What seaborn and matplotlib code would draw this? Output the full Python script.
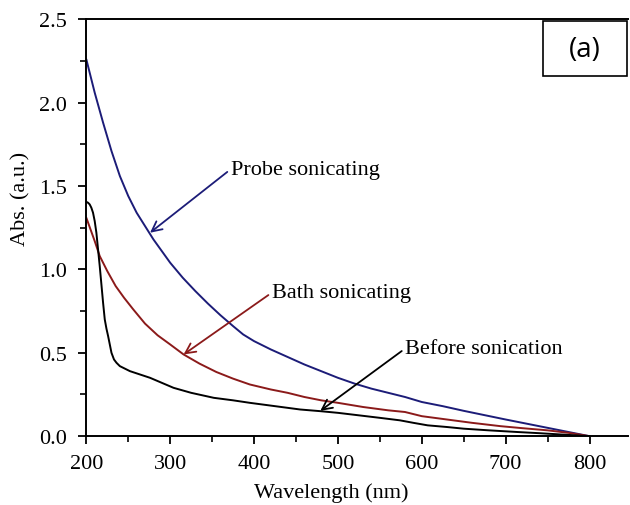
import matplotlib
matplotlib.use("Agg")
import matplotlib.pyplot as plt
from matplotlib.patches import Rectangle
from matplotlib.ticker import MultipleLocator
import seaborn as sns
import pandas as pd

# ---- data ----
probe_x = [200, 210, 220, 230, 240, 250, 260, 270, 280, 290, 300, 315, 330, 345, 360, 375, 387, 400, 420, 440, 460, 480, 500, 520, 540, 560, 580, 600, 625, 650, 675, 700, 725, 750, 775, 800]
probe_y = [2.26, 2.06, 1.88, 1.71, 1.56, 1.44, 1.34, 1.26, 1.18, 1.11, 1.04, 0.95, 0.87, 0.795, 0.725, 0.66, 0.61, 0.57, 0.52, 0.475, 0.43, 0.39, 0.35, 0.315, 0.285, 0.26, 0.235, 0.205, 0.18, 0.152, 0.126, 0.10, 0.075, 0.05, 0.025, 0.0]

bath_x = [200, 205, 210, 216, 225, 235, 245, 256, 270, 285, 300, 316, 335, 355, 375, 395, 420, 440, 460, 480, 500, 530, 560, 580, 600, 630, 660, 694, 720, 750, 775, 800]
bath_y = [1.31, 1.24, 1.17, 1.08, 0.99, 0.90, 0.83, 0.76, 0.675, 0.605, 0.55, 0.49, 0.435, 0.385, 0.345, 0.31, 0.28, 0.26, 0.235, 0.215, 0.20, 0.175, 0.155, 0.145, 0.12, 0.10, 0.08, 0.06, 0.048, 0.035, 0.02, 0.0]

before_x = [200, 202, 204, 206, 208, 210, 212, 214, 216, 218, 220, 222, 224, 226, 228, 230, 233, 236, 240, 244, 252, 264, 276, 290, 304, 325, 352, 375, 395, 425, 455, 479, 500, 525, 550, 574, 590, 607, 630, 650, 680, 714, 740, 760, 780, 800]
before_y = [1.405, 1.40, 1.39, 1.37, 1.34, 1.29, 1.22, 1.12, 1.02, 0.91, 0.80, 0.70, 0.645, 0.60, 0.55, 0.50, 0.46, 0.44, 0.42, 0.41, 0.39, 0.37, 0.35, 0.32, 0.29, 0.26, 0.23, 0.215, 0.20, 0.18, 0.16, 0.15, 0.14, 0.125, 0.11, 0.095, 0.08, 0.065, 0.055, 0.045, 0.035, 0.025, 0.018, 0.012, 0.006, 0.0]

labels = ["Probe sonicating", "Bath sonicating", "Before sonication"]
colors = ["#1c1c78", "#8b1a1a", "#000000"]
x_ticks = [200, 300, 400, 500, 600, 700, 800]
y_ticks = [0.0, 0.5, 1.0, 1.5, 2.0, 2.5]

# annotation text anchors and arrow tips (data coords)
text_pos = [(372, 1.60), (421, 0.86), (580, 0.525)]
arrow_tip = [(276, 1.22), (316, 0.49), (479, 0.152)]

# ---- plot ----
sns.set_theme(style="ticks")
plt.rcParams["font.family"] = ["Liberation Serif", "DejaVu Serif"]

fig = plt.figure(figsize=(6.3, 5.06), dpi=100)
ax = fig.add_axes([0.137, 0.136, 0.860, 0.824])

series = [(probe_x, probe_y), (bath_x, bath_y), (before_x, before_y)]
for (xs, ys), lab, c in zip(series, labels, colors):
    df = pd.DataFrame({"x": xs, "y": ys})
    sns.lineplot(data=df, x="x", y="y", ax=ax, color=c, linewidth=1.4, sort=False,
                 solid_joinstyle="round", solid_capstyle="round")

for lab, c, tp, tip in zip(labels, colors, text_pos, arrow_tip):
    ax.annotate(lab, xy=tip, xytext=tp, textcoords="data",
                fontsize=16, color="black", ha="left", va="center",
                arrowprops=dict(arrowstyle="->", color=c, lw=1.3, relpos=(0, 0.5),
                                shrinkA=0, shrinkB=0, mutation_scale=18))

ax.set_xlim(200, 846)
ax.set_ylim(0, 2.5)
ax.set_xticks(x_ticks)
ax.set_yticks(y_ticks)
ax.set_yticklabels([f"{v:.1f}" for v in y_ticks])
ax.xaxis.set_minor_locator(MultipleLocator(50))
ax.yaxis.set_minor_locator(MultipleLocator(0.25))
ax.tick_params(which="major", direction="out", length=6, width=1.3, labelsize=16,
               colors="black", labelcolor="black")
ax.tick_params(axis="x", which="major", pad=7)
ax.tick_params(axis="y", which="major", pad=8)
ax.tick_params(which="minor", direction="out", length=4, width=1.2, colors="black")
ax.set_xlabel("Wavelength (nm)", fontsize=16, color="black")
ax.set_ylabel("Abs. (a.u.)", fontsize=16, color="black")
ax.xaxis.set_label_coords(0.452, -0.134)
ax.yaxis.set_label_coords(-0.12, 0.571)
ax.xaxis.label.set_va("center")
ax.yaxis.label.set_va("center")

for s in ["left", "bottom", "top"]:
    ax.spines[s].set_linewidth(1.4)
    ax.spines[s].set_color("black")
ax.spines["right"].set_visible(False)

ax.add_patch(Rectangle((0.843, 0.863), 0.155, 0.132, transform=ax.transAxes,
                       fill=False, edgecolor="black", linewidth=1.2, clip_on=False))
ax.text(0.9205, 0.929, "(a)", transform=ax.transAxes, ha="center", va="center",
        fontsize=20, color="black", family=["Open Sans", "DejaVu Sans"])

fig.savefig("out.png", dpi=100)
